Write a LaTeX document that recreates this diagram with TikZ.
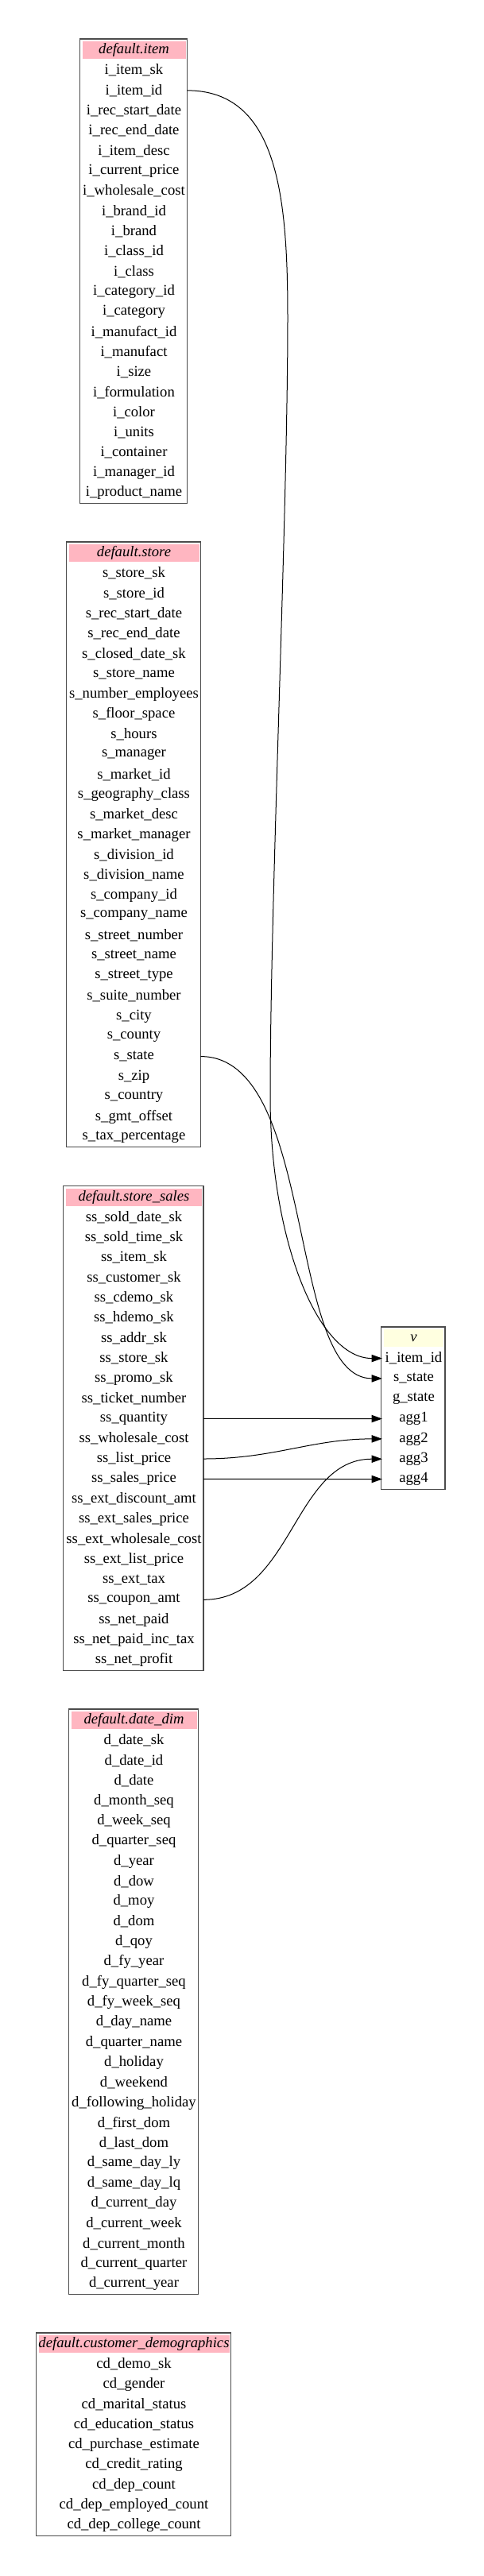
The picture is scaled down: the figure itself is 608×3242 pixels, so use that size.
\documentclass[tikz,border=0pt]{standalone}
\usepackage{fontspec}
\setmainfont{Liberation Serif}
\usetikzlibrary{arrows.meta}

\definecolor{hdrpink}{HTML}{FFB6C1}
\definecolor{hdryellow}{HTML}{FFFFE0}

\tikzset{
  field/.style={font=\fontsize{14pt}{16pt}\selectfont, inner sep=0pt, minimum height=19pt},
  tblhead/.style={field, font=\fontsize{14pt}{16pt}\selectfont\itshape, draw=white, line width=2.5pt},
  tblframe/.style={draw=black!70, line width=1pt},
  link/.style={line width=0.75pt, -{Triangle[length=10pt,width=7pt]}}
}

\begin{document}
\begin{tikzpicture}[x=0.75pt, y=-0.75pt]
    \useasboundingbox (0,0) rectangle (608,3242);

    % Table default.item
    \node[tblhead, fill=hdrpink, minimum width=100pt] (item-0) at (168.5,63.2) {default.item};
    \foreach \f [count=\i] in {i\_item\_sk, i\_item\_id, i\_rec\_start\_date, i\_rec\_end\_date, i\_item\_desc, i\_current\_price, i\_wholesale\_cost, i\_brand\_id, i\_brand, i\_class\_id, i\_class, i\_category\_id, i\_category, i\_manufact\_id, i\_manufact, i\_size, i\_formulation, i\_color, i\_units, i\_container, i\_manager\_id, i\_product\_name}
        \node[field, minimum width=100pt] (item-\i) at (168.5, 63.2+\i*25.33) {\f};
    \draw[tblframe] (item-0.north west) rectangle (item-22.south east);

    % Table default.store
    \node[tblhead, fill=hdrpink, minimum width=125.5pt] (store-0) at (168.5,696.3) {default.store};
    \foreach \f [count=\i] in {s\_store\_sk, s\_store\_id, s\_rec\_start\_date, s\_rec\_end\_date, s\_closed\_date\_sk, s\_store\_name, s\_number\_employees, s\_floor\_space, s\_hours, s\_manager, s\_market\_id, s\_geography\_class, s\_market\_desc, s\_market\_manager, s\_division\_id, s\_division\_name, s\_company\_id, s\_company\_name, s\_street\_number, s\_street\_name, s\_street\_type, s\_suite\_number, s\_city, s\_county, s\_state, s\_zip, s\_country, s\_gmt\_offset, s\_tax\_percentage}
        \node[field, minimum width=125.5pt] (store-\i) at (168.5, 696.3+\i*25.33) {\f};
    \draw[tblframe] (store-0.north west) rectangle (store-29.south east);

    % Table default.store_sales
    \node[tblhead, fill=hdrpink, minimum width=131pt] (sales-0) at (168.5,1506.7) {default.store\_sales};
    \foreach \f [count=\i] in {ss\_sold\_date\_sk, ss\_sold\_time\_sk, ss\_item\_sk, ss\_customer\_sk, ss\_cdemo\_sk, ss\_hdemo\_sk, ss\_addr\_sk, ss\_store\_sk, ss\_promo\_sk, ss\_ticket\_number, ss\_quantity, ss\_wholesale\_cost, ss\_list\_price, ss\_sales\_price, ss\_ext\_discount\_amt, ss\_ext\_sales\_price, ss\_ext\_wholesale\_cost, ss\_ext\_list\_price, ss\_ext\_tax, ss\_coupon\_amt, ss\_net\_paid, ss\_net\_paid\_inc\_tax, ss\_net\_profit}
        \node[field, minimum width=131pt] (sales-\i) at (168.5, 1506.7+\i*25.33) {\f};
    \draw[tblframe] (sales-0.north west) rectangle (sales-23.south east);

    % Table default.date_dim
    \node[tblhead, fill=hdrpink, minimum width=121pt] (date-0) at (168.5,2165.2) {default.date\_dim};
    \foreach \f [count=\i] in {d\_date\_sk, d\_date\_id, d\_date, d\_month\_seq, d\_week\_seq, d\_quarter\_seq, d\_year, d\_dow, d\_moy, d\_dom, d\_qoy, d\_fy\_year, d\_fy\_quarter\_seq, d\_fy\_week\_seq, d\_day\_name, d\_quarter\_name, d\_holiday, d\_weekend, d\_following\_holiday, d\_first\_dom, d\_last\_dom, d\_same\_day\_ly, d\_same\_day\_lq, d\_current\_day, d\_current\_week, d\_current\_month, d\_current\_quarter, d\_current\_year}
        \node[field, minimum width=121pt] (date-\i) at (168.5, 2165.2+\i*25.33) {\f};
    \draw[tblframe] (date-0.north west) rectangle (date-28.south east);

    % Table default.customer_demographics
    \node[tblhead, fill=hdrpink, minimum width=182.5pt] (cust-0) at (168.5,2950.3) {default.customer\_demographics};
    \foreach \f [count=\i] in {cd\_demo\_sk, cd\_gender, cd\_marital\_status, cd\_education\_status, cd\_purchase\_estimate, cd\_credit\_rating, cd\_dep\_count, cd\_dep\_employed\_count, cd\_dep\_college\_count}
        \node[field, minimum width=182.5pt] (cust-\i) at (168.5, 2950.3+\i*25.33) {\f};
    \draw[tblframe] (cust-0.north west) rectangle (cust-9.south east);

    % Result v
    \node[tblhead, fill=hdryellow, minimum width=59pt] (v-0) at (520.5,1684.2) {v};
    \foreach \f [count=\i] in {i\_item\_id, s\_state, g\_state, agg1, agg2, agg3, agg4}
        \node[field, minimum width=59pt] (v-\i) at (520.5, 1684.2+\i*25.33) {\f};
    \draw[tblframe] (v-0.north west) rectangle (v-7.south east);

    % Lineage edges
    \coordinate (bendtop) at (362,400);
    \coordinate (bendlow) at (340,1380);
    \draw[link] (item-2.east) .. controls +(115,0) and +(0,-150) .. (bendtop)
        .. controls +(0,250) and +(0,-250) .. (bendlow)
        .. controls +(0,180) and +(-81,0) .. (v-1.west);
    \draw[link] (store-25.east) .. controls +(147,0) and +(-121,0) .. (v-2.west);
    \draw[link] (sales-11.east) to[out=0,in=180] (v-4.west);
    \draw[link] (sales-13.east) to[out=0,in=180] (v-5.west);
    \draw[link] (sales-20.east) to[out=0,in=180] (v-6.west);
    \draw[link] (sales-14.east) to[out=0,in=180] (v-7.west);
\end{tikzpicture}
\end{document}
